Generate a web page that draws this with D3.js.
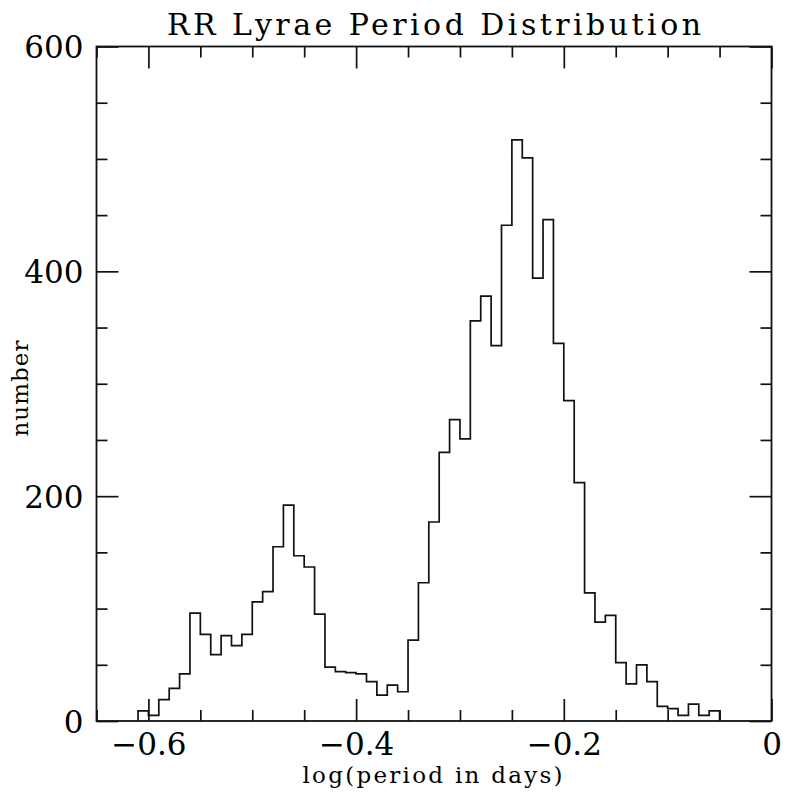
<!DOCTYPE html>
<html>
<head>
<meta charset="utf-8">
<script src="https://cdn.jsdelivr.net/npm/d3@7"></script>
<style>
  html, body { margin: 0; padding: 0; background: #fff; }
  svg { display: block; }
  text { font-family: "DejaVu Serif", "Liberation Serif", serif; fill: #000; }
</style>
</head>
<body>
<svg id="chart" width="787" height="794"></svg>
<script>
// ---- data ----
const title = "RR Lyrae Period Distribution";
const xLabel = "log(period in days)";
const yLabel = "number";
const binStart = -0.61;
const binWidth = 0.01;
const counts = [9, 5, 19, 29, 42, 96, 77, 59, 76, 67,
                77, 106, 115, 155, 192, 147, 137, 95, 48, 44,
                43, 42, 35, 23, 32, 26, 72, 123, 177, 239,
                268, 251, 356, 378, 334, 441, 517, 501, 394, 446,
                336, 285, 212, 114, 88, 94, 52, 33, 50, 35,
                13, 11, 5, 15, 5, 9];
const xMajorTicks = [-0.6, -0.4, -0.2, 0];
const xMinorTicks = [-0.65, -0.55, -0.5, -0.45, -0.35, -0.3, -0.25, -0.15, -0.1, -0.05];
const yMajorTicks = [0, 200, 400, 600];
const yMinorTicks = [50, 100, 150, 250, 300, 350, 450, 500, 550];
const xDomain = [-0.65, 0];
const yDomain = [0, 600];

// ---- layout ----
const svg = d3.select("#chart");
const pL = 96.5, pR = 771.5, pT = 46.5, pB = 721;
const x = d3.scaleLinear().domain(xDomain).range([pL, pR]);
const y = d3.scaleLinear().domain(yDomain).range([pB, pT]);
const majorLen = 22, minorLen = 11;
const ink = "#111";

// histogram outline
const pts = [];
counts.forEach((c, i) => {
  const e0 = binStart + i * binWidth, e1 = binStart + (i + 1) * binWidth;
  if (i === 0) pts.push([e0, 0]);
  pts.push([e0, c]);
  pts.push([e1, c]);
  if (i === counts.length - 1) pts.push([e1, 0]);
});
const line = d3.line().x(d => x(d[0])).y(d => y(d[1]));
svg.append("path").attr("d", line(pts))
  .attr("fill", "none").attr("stroke", ink).attr("stroke-width", 1.7)
  .attr("stroke-linejoin", "miter");

const xFmt = d => d === 0 ? "0" : d3.format(".1f")(d).replace("-", "\u2212");
const yFmt = d => d3.format("d")(d);

// axes helper
function drawAxis(gen, tf, ticks, len, fmt) {
  const g = svg.append("g").attr("transform", tf)
    .call(gen.tickValues(ticks).tickSizeInner(-len).tickSizeOuter(0)
      .tickFormat(fmt ? fmt : ""));
  g.select(".domain").remove();
  g.selectAll(".tick line").attr("stroke", ink).attr("stroke-width", 1.7);
  return g;
}
// bottom
const bMaj = drawAxis(d3.axisBottom(x), `translate(0,${pB})`, xMajorTicks, majorLen, xFmt);
bMaj.selectAll("text").attr("font-size", 31).attr("y", 34).attr("dy", 0)
  .attr("font-family", "DejaVu Serif").attr("fill", "#000");
drawAxis(d3.axisBottom(x), `translate(0,${pB})`, xMinorTicks, minorLen, null);
// top
drawAxis(d3.axisTop(x), `translate(0,${pT})`, xMajorTicks, majorLen, null);
drawAxis(d3.axisTop(x), `translate(0,${pT})`, xMinorTicks, minorLen, null);
// left
const lMaj = drawAxis(d3.axisLeft(y), `translate(${pL},0)`, yMajorTicks, majorLen, yFmt);
lMaj.selectAll("text").attr("font-size", 31).attr("x", -13).attr("dy", "0.36em")
  .attr("font-family", "DejaVu Serif").attr("fill", "#000");
drawAxis(d3.axisLeft(y), `translate(${pL},0)`, yMinorTicks, minorLen, null);
// right
drawAxis(d3.axisRight(y), `translate(${pR},0)`, yMajorTicks, majorLen, null);
drawAxis(d3.axisRight(y), `translate(${pR},0)`, yMinorTicks, minorLen, null);

// frame
svg.append("rect").attr("x", pL).attr("y", pT)
  .attr("width", pR - pL).attr("height", pB - pT)
  .attr("fill", "none").attr("stroke", ink).attr("stroke-width", 1.8);

// title & labels
svg.append("text").attr("x", 434).attr("y", 35)
  .attr("text-anchor", "middle").attr("font-size", 30)
  .attr("textLength", 534).attr("lengthAdjust", "spacing").text(title);
svg.append("text").attr("x", 432.5).attr("y", 783)
  .attr("text-anchor", "middle").attr("font-size", 23)
  .attr("textLength", 260).attr("lengthAdjust", "spacing").text(xLabel);
svg.append("text").attr("transform", "translate(28,388.5) rotate(-90)")
  .attr("text-anchor", "middle").attr("font-size", 23)
  .attr("textLength", 96).attr("lengthAdjust", "spacing").text(yLabel);
</script>
</body>
</html>
